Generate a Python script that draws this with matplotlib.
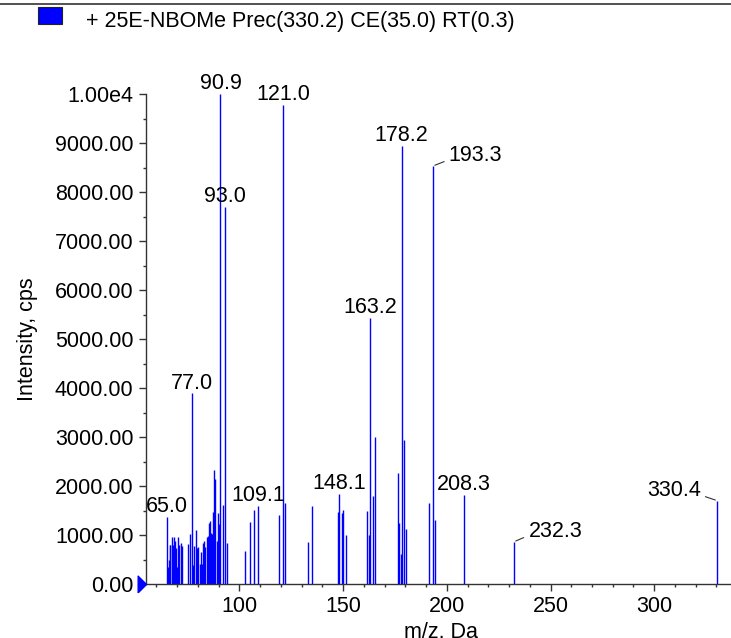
import matplotlib
matplotlib.use('Agg')
import matplotlib.pyplot as plt
from matplotlib.patches import Rectangle
from matplotlib.lines import Line2D
from matplotlib.path import Path
from matplotlib.ticker import MultipleLocator, FuncFormatter

plt.rcParams['font.family'] = ['Liberation Sans', 'DejaVu Sans']

# peaks (m/z, intensity in cps)
mz = [65.0, 65.4, 65.9, 66.4, 66.8, 67.3, 67.8, 68.3, 68.8, 69.3, 70.0, 70.5,
      71.0, 71.7, 72.4, 75.4, 76.1, 77.0, 77.5, 78.3, 79.0, 79.6, 80.2, 81.1,
      81.7, 82.2, 82.7, 83.1, 83.6, 84.3, 84.8, 85.4, 86.0, 86.5, 87.0, 87.5,
      88.0, 88.4, 89.1, 89.6, 90.1, 90.9, 92.0, 93.0, 94.1,
      102.9, 105.0, 107.0, 109.1,
      119.3, 121.0, 121.8, 133.0, 135.1,
      147.4, 148.1, 149.3, 150.2, 151.2,
      161.4, 162.3, 163.2, 164.2, 165.2,
      176.3, 177.2, 177.8, 178.2, 179.2, 180.4,
      191.5, 193.3, 194.1, 208.3, 232.3, 330.4]
intensity = [1370, 350, 490, 790, 790, 960, 790, 950, 880, 730, 350, 960,
             790, 845, 780, 825, 1030, 3890, 390, 780, 1100, 730, 750, 400,
             650, 400, 845, 880, 750, 950, 970, 1250, 1290, 1050, 1020, 1460,
             2330, 2140, 880, 1450, 1230, 10000, 1615, 7700, 845,
             675, 1270, 1510, 1595,
             1410, 9775, 1650, 860, 1600,
             1460, 1830, 1440, 1510, 1010,
             1500, 1000, 5435, 1800, 3010,
             2270, 1240, 610, 8940, 2945, 1125,
             1660, 8530, 1300, 1820, 860, 1700]

# labelled peaks
centered_labels = [65.0, 77.0, 90.9, 93.0, 109.1, 121.0, 148.1, 163.2, 178.2, 208.3]
leader_labels = [193.3, 232.3, 330.4]

title = '+ 25E-NBOMe Prec(330.2) CE(35.0) RT(0.3)'

W, H = 731, 638
fs = 15.5
blue = '#0000FF'

fig = plt.figure(figsize=(W / 100, H / 100), dpi=100)
ax = fig.add_axes([146 / W, (H - 584) / H, (W - 146) / W, (584 - 94) / H])

ax.vlines(mz, 0, intensity, colors=blue, linewidth=1.0)

ax.set_xlim(55, 337)
ax.set_ylim(0, 10000)
ax.xaxis.set_major_locator(MultipleLocator(50))
ax.xaxis.set_minor_locator(MultipleLocator(10))
ax.yaxis.set_major_locator(MultipleLocator(1000))
ax.yaxis.set_minor_locator(MultipleLocator(500))
ax.yaxis.set_major_formatter(FuncFormatter(lambda v, p: '1.00e4' if v >= 10000 else '{:.2f}'.format(v)))
ax.set_xticks([100, 150, 200, 250, 300])

for s in ['top', 'right']:
    ax.spines[s].set_visible(False)
for s in ['left', 'bottom']:
    ax.spines[s].set_color('#333333')
    ax.spines[s].set_linewidth(1.0)
ax.tick_params(which='major', direction='out', length=5, width=1, color='#333333',
               labelsize=fs, pad=4)
ax.tick_params(which='minor', direction='out', length=2.5, width=1, color='#333333')

# blue marker at the origin, tip on the y axis
tri = Path([(-1, -1), (0, 0), (-1, 1), (-1, -1)])
ax.plot([55], [0], marker=tri, markersize=12, color=blue, clip_on=False, zorder=5)

lookup = dict(zip(mz, intensity))
for m in centered_labels:
    ax.annotate('{:.1f}'.format(m), xy=(m, lookup[m]), xytext=(0, 3.5),
                textcoords='offset points', ha='center', va='baseline',
                fontsize=fs, annotation_clip=False)

offsets = {193.3: (11.5, 3.6), 232.3: (10.5, 3.6), 330.4: (-12, 3.1)}
for m in leader_labels:
    dx, dy = offsets[m]
    left = dx > 0
    ax.annotate('{:.1f}'.format(m), xy=(m, lookup[m]), xytext=(dx, dy),
                textcoords='offset points', ha='left' if left else 'right',
                va='baseline', fontsize=fs, annotation_clip=False,
                arrowprops=dict(arrowstyle='-', color='#333333', lw=0.8,
                                relpos=(0 if left else 1, 0.3),
                                shrinkA=1.5, shrinkB=1.5))

# axis titles
fig.text(28 / W, 1 - 339 / H, 'Intensity, cps', rotation=90, ha='center',
         va='center', fontsize=fs)
fig.text(441 / W, 1 - 622 / H, 'm/z, Da', ha='center', va='top', fontsize=fs)

# header: top rule, legend swatch and text
fig.add_artist(Line2D([0, 1], [1 - 4 / H, 1 - 4 / H], color='#333333', lw=1.2))
fig.add_artist(Rectangle((38 / W, 1 - 24 / H), 24 / W, 17 / H, facecolor=blue,
                         edgecolor='#222222', lw=0.8))
fig.text(86 / W, 1 - 27.3 / H, title, ha='left', va='baseline', fontsize=fs)

fig.savefig('out.png', dpi=100)
